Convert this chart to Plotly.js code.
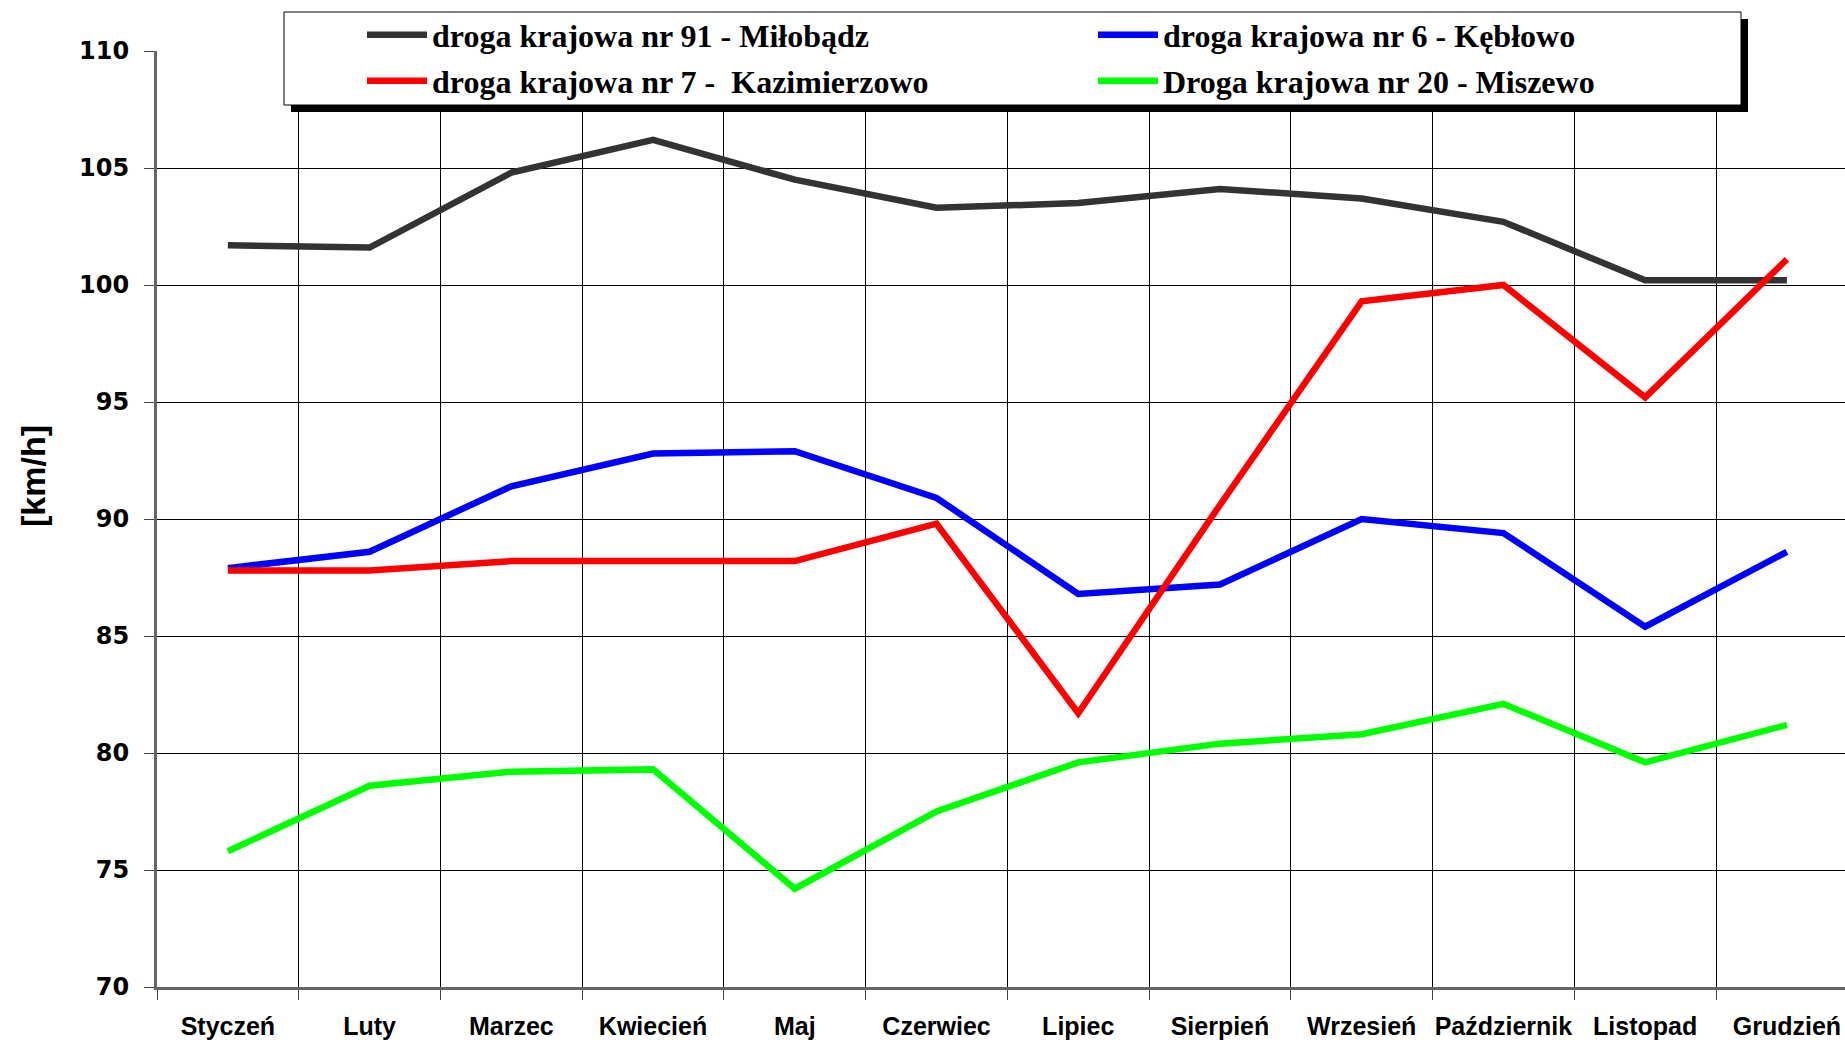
<!DOCTYPE html>
<html><head><meta charset="utf-8">
<script src="https://cdn.plot.ly/plotly-3.0.1.min.js"></script>
<style>html,body{margin:0;padding:0;background:#fff}#chart{width:1845px;height:1045px}</style>
</head><body><div id="chart"></div>
<script>
const months = ['Styczeń','Luty','Marzec','Kwiecień','Maj','Czerwiec','Lipiec','Sierpień','Wrzesień','Październik','Listopad','Grudzień'];
const names = ['droga krajowa nr 91 - Miłobądz','droga krajowa nr 6 - Kębłowo','droga krajowa nr 7 -  Kazimierzowo','Droga krajowa nr 20 - Miszewo'];
const dk91 = [101.7,101.6,104.8,106.2,104.5,103.3,103.5,104.1,103.7,102.7,100.2,100.2];
const dk6  = [87.9,88.6,91.4,92.8,92.9,90.9,86.8,87.2,90.0,89.4,85.4,88.6];
const dk7  = [87.8,87.8,88.2,88.2,88.2,89.8,81.7,90.6,99.3,100.0,95.2,101.1];
const dk20 = [75.8,78.6,79.2,79.3,74.2,77.5,79.6,80.4,80.8,82.1,79.6,81.2];
const colors = ['#333333','#0000ff','#ff0000','#00ff00'];
const yTicks = [70,75,80,85,90,95,100,105,110];
const yTitle = '[km/h]';

const W = 1845, H = 1045, ML = 157, MT = 51, MB = 58, MR = 0;
const pw = W - ML - MR, ph = H - MT - MB;
const px = x => (x - ML) / pw;
const py = y => 1 - (y - MT) / ph;

const series = [dk91, dk6, dk7, dk20];
const legendIds = ['legend','legend','legend2','legend2'];
const traces = series.map((s, i) => ({
  type: 'scatter', mode: 'lines', x: months, y: s, name: names[i],
  line: {color: colors[i], width: 6.5},
  legend: legendIds[i], showlegend: true
}));

const legFont = {family: '"Liberation Serif", "Times New Roman", serif', size: 32, color: '#000', weight: 'bold'};
const layout = {
  width: W, height: H,
  margin: {l: ML, r: MR, t: MT, b: MB},
  paper_bgcolor: '#fff', plot_bgcolor: '#fff',
  showlegend: true,
  xaxis: {
    type: 'category', range: [-0.5, 11.41], tickson: 'boundaries', tickangle: 0,
    showgrid: true, gridcolor: '#000', gridwidth: 1,
    showline: true, linecolor: '#666', linewidth: 3,
    ticks: 'outside', ticklen: 10, tickcolor: '#444', tickwidth: 1,
    tickfont: {family: '"Liberation Sans", Arial, sans-serif', size: 25, color: '#000', weight: 'bold'},
    ticklabelstandoff: 15, zeroline: false, fixedrange: true
  },
  yaxis: {
    range: [70, 110], tickvals: yTicks, ticktext: yTicks.map(String),
    showgrid: true, gridcolor: '#000', gridwidth: 1,
    showline: true, linecolor: '#666', linewidth: 3,
    ticks: 'outside', ticklen: 10, tickcolor: '#444', tickwidth: 1,
    tickfont: {family: '"DejaVu Sans", Verdana, sans-serif', size: 24, color: '#000', weight: 'bold'},
    ticklabelstandoff: 10, zeroline: false
  },
  annotations: [
    {text: yTitle, xref: 'paper', yref: 'paper', x: px(33), y: py(476), xanchor: 'center', yanchor: 'middle',
     textangle: -90, showarrow: false,
     font: {family: '"Liberation Sans", Arial, sans-serif', size: 34, color: '#000', weight: 'bold'}}
  ],
  legend: {
    orientation: 'h', x: px(362), y: py(35), xanchor: 'left', yanchor: 'middle',
    bgcolor: 'rgba(0,0,0,0)', borderwidth: 0, font: legFont,
    itemwidth: 60, entrywidth: 656, traceorder: 'normal'
  },
  legend2: {
    orientation: 'h', x: px(362), y: py(81), xanchor: 'left', yanchor: 'middle',
    bgcolor: 'rgba(0,0,0,0)', borderwidth: 0, font: legFont,
    itemwidth: 60, entrywidth: 656, traceorder: 'normal'
  },
  shapes: [
    {type: 'rect', xref: 'paper', yref: 'paper', x0: px(291), x1: px(1748), y0: py(19), y1: py(112),
     fillcolor: '#000', line: {width: 0}, layer: 'above'},
    {type: 'rect', xref: 'paper', yref: 'paper', x0: px(284), x1: px(1741), y0: py(12), y1: py(105),
     fillcolor: '#fff', line: {color: '#000', width: 1}, layer: 'above'}
  ]
};

Plotly.newPlot('chart', traces, layout, {displayModeBar: false, staticPlot: true});
</script>
</body></html>
